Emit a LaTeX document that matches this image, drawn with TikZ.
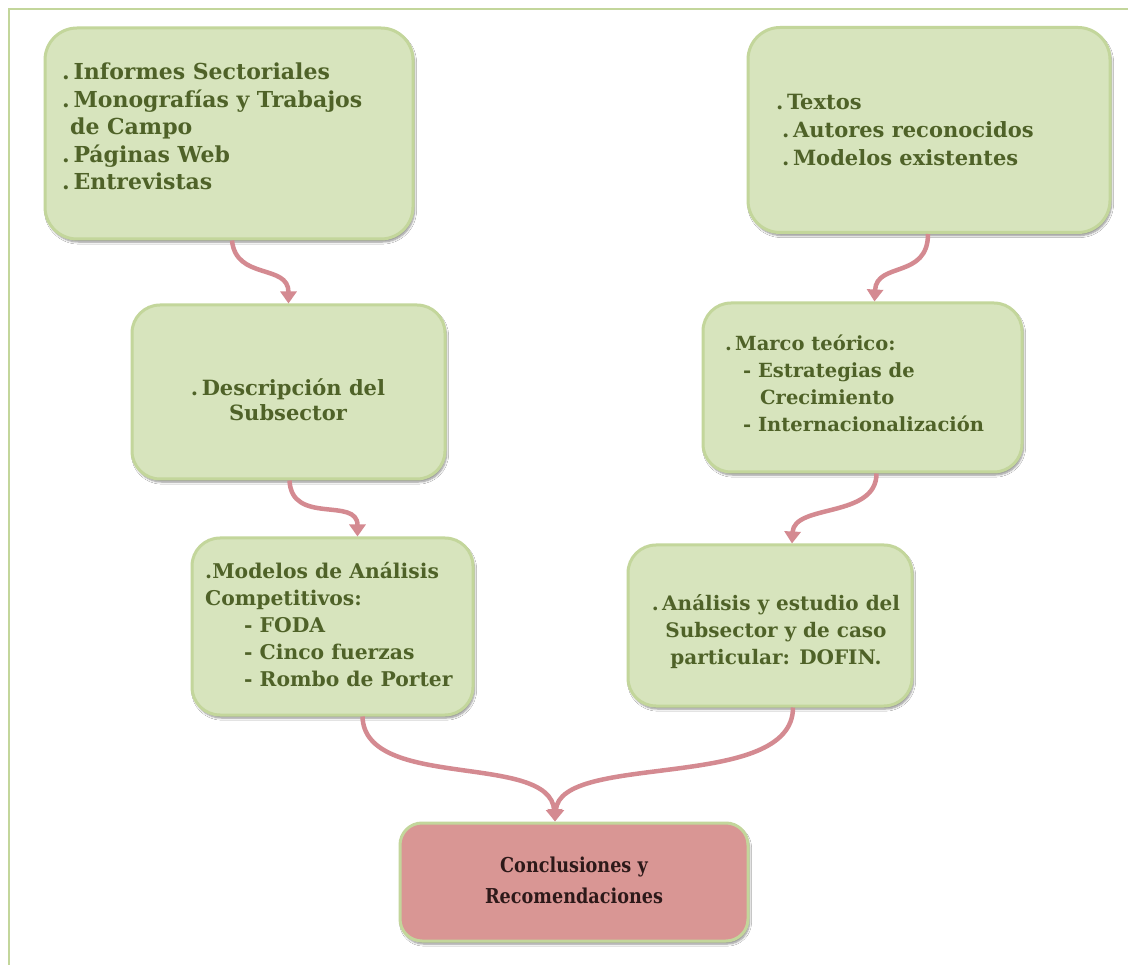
\documentclass[tikz,border=0pt]{standalone}
\usepackage{fontspec}
\setmainfont{DejaVu Serif}
\newfontfamily\condfont[FakeStretch=0.86]{DejaVu Serif}
\usetikzlibrary{arrows.meta,shadows.blur,calc}
\definecolor{boxfill}{RGB}{215,228,189}
\definecolor{boxline}{RGB}{195,214,155}
\definecolor{txtgreen}{RGB}{79,98,40}
\definecolor{redfill}{RGB}{217,150,148}
\definecolor{arrowpink}{RGB}{212,138,145}
\definecolor{darktxt}{RGB}{45,25,25}
\begin{document}
\begin{tikzpicture}[x=1pt,y=-1pt,
  greenbox/.style={draw=boxline,line width=3pt,fill=boxfill,rounded corners=32pt,inner sep=0pt,
    blur shadow={shadow blur steps=6,shadow xshift=1.5pt,shadow yshift=-3pt,shadow opacity=45}},
  redbox/.style={greenbox,fill=redfill,rounded corners=22pt},
  boxtext/.style={inner sep=0pt,anchor=north west,align=left,text=txtgreen,
    font=\fontsize{19.5}{27}\selectfont\bfseries},
  ctext/.style={boxtext,anchor=north,align=center},
  flow/.style={draw=arrowpink,line width=4.5pt,-{Triangle[width=16pt,length=12pt]}}
]
\useasboundingbox (0,0) rectangle (1128,965);
\fill[white] (0,0) rectangle (1128,965);
\draw[boxline,line width=2.5pt] (9,965) -- (9,9) -- (1128,9);

% boxes
\node[greenbox,minimum width=368pt,minimum height=211pt] (A) at (229,133.5) {};
\node[greenbox,minimum width=362pt,minimum height=205pt] (B) at (929,130) {};
\node[greenbox,minimum width=313pt,minimum height=174pt,rounded corners=28pt] (C) at (288.5,392) {};
\node[greenbox,minimum width=319pt,minimum height=169pt,rounded corners=28pt] (D) at (862.5,387.5) {};
\node[greenbox,minimum width=281pt,minimum height=177pt,rounded corners=28pt] (E) at (332.5,626.5) {};
\node[greenbox,minimum width=284pt,minimum height=161pt,rounded corners=28pt] (F) at (770,625.5) {};
\node[redbox,minimum width=348pt,minimum height=118pt] (G) at (574,882) {};

% texts
\node[boxtext,font=\fontsize{22}{27.5}\selectfont\bfseries] (tA) at (62,63) {.\,Informes Sectoriales\\.\,Monografías y Trabajos\\\hspace*{8pt}de Campo\\.\,Páginas Web\\.\,Entrevistas};
\node[boxtext,font=\fontsize{21}{28}\selectfont\bfseries] (tB) at (776,94) {.\,Textos\\\hspace*{6pt}.\,Autores reconocidos\\\hspace*{6pt}.\,Modelos existentes};
\node[ctext,font=\fontsize{21}{25}\selectfont\bfseries] (tC) at (288,379) {.\,Descripción del\\Subsector};
\node[boxtext] (tD) at (725,335) {.\,Marco teórico:\\\hspace*{18pt}- Estrategias de\\\hspace*{35pt}Crecimiento\\\hspace*{18pt}- Internacionalización};
\node[boxtext,font=\fontsize{20.3}{27}\selectfont\bfseries] (tE) at (205,562) {.Modelos de Análisis\\Competitivos:\\\hspace*{39pt}- FODA\\\hspace*{39pt}- Cinco fuerzas\\\hspace*{39pt}- Rombo de Porter};
\node[ctext,font=\fontsize{20}{27}\selectfont\bfseries] (tF) at (776,594) {.\,Análisis y estudio del\\Subsector y de caso\\particular: DOFIN.};
\node[ctext,text=darktxt,font=\condfont\fontsize{20.5}{31}\selectfont\bfseries] (tG) at (574,857) {Conclusiones y\\Recomendaciones};

% connectors
\draw[flow] ($(A.south)+(3,0)$) .. controls +(4,40) and +(0,-40) .. ($(C.north)+(0,0)$);
\draw[flow] ($(B.south)+(-1,0)$) .. controls +(0,45) and +(2,-40) .. ($(D.north)+(12,0)$);
\draw[flow] ($(C.south)+(1,0)$) .. controls +(2,45) and +(0,-40) .. ($(E.north)+(25,0)$);
\draw[flow] ($(D.south)+(14,0)$) .. controls +(0,45) and +(2,-40) .. ($(F.north)+(22,0)$);
\draw[flow] ($(E.south)+(30,0)$) .. controls +(2,75) and +(-5,-70) .. ($(G.north)+(-19,0)$);
\draw[flow] ($(F.south)+(23,0)$) .. controls +(0,85) and +(5,-70) .. ($(G.north)+(-19,0)$);
\end{tikzpicture}
\end{document}
